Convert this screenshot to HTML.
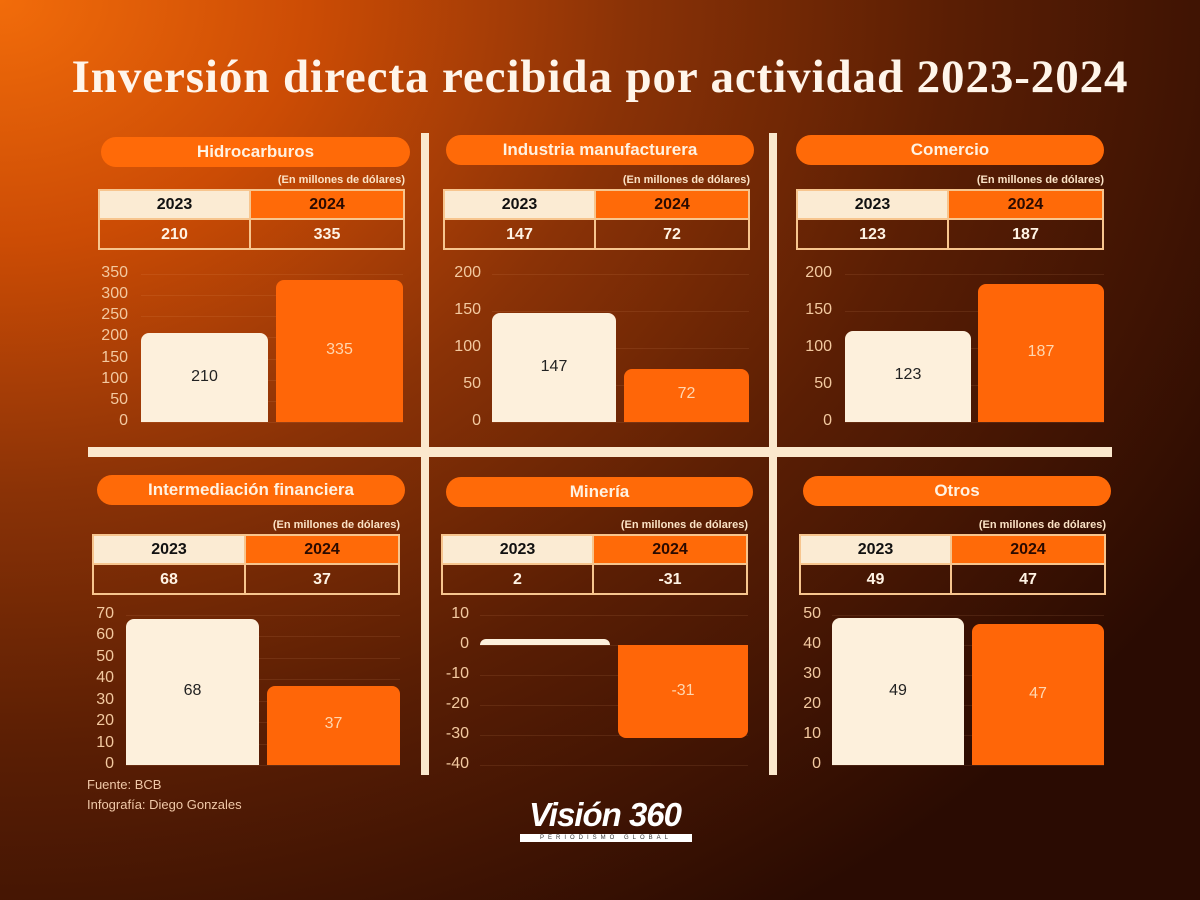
<!DOCTYPE html>
<html><head><meta charset="utf-8"><style>
*{margin:0;padding:0;box-sizing:border-box}
body{width:1200px;height:900px;overflow:hidden;position:relative;font-family:"Liberation Sans",sans-serif;
background:radial-gradient(ellipse 1400px 1100px at 0px 0px,#f26c0a 0%,#cc4c05 22%,#8a3206 45%,#5a1e04 68%,#2a0b02 100%);}
.a{position:absolute}
.title{left:0;width:1200px;top:50px;text-align:center;font-family:"Liberation Serif",serif;font-weight:bold;font-size:47px;color:#fff5ea;letter-spacing:0.9px;white-space:nowrap}
.pill{background:#ff6a08;border-radius:15px;color:#fff2e2;font-weight:bold;font-size:17px;text-align:center}
.sub{font-size:11px;font-weight:bold;color:#fbe3c6;text-align:right}
.cell{border:2px solid #f7c58e;text-align:center;font-weight:bold;font-size:16px}
.div{background:#fbe8cd}
.tick{font-size:16px;color:#f3c9a0;text-align:right;width:34px}
.grid{height:1px;background:rgba(255,190,140,0.1)}
</style></head><body>
<div class="a title">Inversión directa recibida por actividad 2023-2024</div>
<div class="a div" style="left:421px;top:133px;width:8px;height:322px"></div>
<div class="a div" style="left:769px;top:133px;width:8px;height:322px"></div>
<div class="a div" style="left:88px;top:447px;width:1024px;height:10px"></div>
<div class="a div" style="left:421px;top:457px;width:8px;height:318px"></div>
<div class="a div" style="left:769px;top:457px;width:8px;height:318px"></div>
<div class="a" style="left:87px;top:777px;font-size:13px;color:#f0c8a8">Fuente: BCB</div>
<div class="a" style="left:87px;top:797px;font-size:13px;color:#f0c8a8">Infografía: Diego Gonzales</div>
<div class="a" style="left:515px;top:796px;width:180px;text-align:center;font-weight:bold;font-style:italic;font-size:33px;color:#fff;letter-spacing:-1px">Visión 360</div>
<div class="a" style="left:520px;top:834px;width:172px;height:8px;background:#fff;font-size:6px;line-height:8px;color:#333;text-align:center;letter-spacing:4px">PERIODISMO GLOBAL</div>
<div id="c"></div>
<script>
const P=[
{n:"Hidrocarburos",pl:101,pt:137,pw:309,tl:98,tt:189,tw:307,sp:251,v:[210,335],ay:[274,422],max:350,min:0,step:50,b:[[141,268],[276,403]],al:94},
{n:"Industria manufacturera",pl:446,pt:135,pw:308,tl:443,tt:189,tw:307,sp:596,v:[147,72],ay:[274,422],max:200,min:0,step:50,b:[[492,616],[624,749]],al:447},
{n:"Comercio",pl:796,pt:135,pw:308,tl:796,tt:189,tw:308,sp:949,v:[123,187],ay:[274,422],max:200,min:0,step:50,b:[[845,971],[978,1104]],al:798},
{n:"Intermediación financiera",pl:97,pt:475,pw:308,tl:92,tt:534,tw:308,sp:246,v:[68,37],ay:[615,765],max:70,min:0,step:10,b:[[126,259],[267,400]],al:80},
{n:"Minería",pl:446,pt:477,pw:307,tl:441,tt:534,tw:307,sp:594,v:[2,-31],ay:[615,765],max:10,min:-40,step:10,b:[[480,610],[618,748]],al:435},
{n:"Otros",pl:803,pt:476,pw:308,tl:799,tt:534,tw:307,sp:952,v:[49,47],ay:[615,765],max:50,min:0,step:10,b:[[832,964],[972,1104]],al:787}];
let h="";
for(const p of P){
h+=`<div class="a pill" style="left:${p.pl}px;top:${p.pt}px;width:${p.pw}px;height:30px;line-height:30px">${p.n}</div>`;
h+=`<div class="a sub" style="left:${p.tl}px;top:${p.tt-15}px;width:${p.tw}px">(En millones de dólares)</div>`;
const w1=p.sp-p.tl,w2=p.tl+p.tw-p.sp;
h+=`<div class="a cell" style="left:${p.tl}px;top:${p.tt}px;width:${w1}px;height:31px;line-height:28px;background:#fbebd3;color:#111">2023</div>`;
h+=`<div class="a cell" style="left:${p.sp-2}px;top:${p.tt}px;width:${w2+2}px;height:31px;line-height:28px;background:#ff6a08;color:#2a0a00">2024</div>`;
h+=`<div class="a cell" style="left:${p.tl}px;top:${p.tt+29}px;width:${w1}px;height:32px;line-height:30px;color:#fff3e4">${p.v[0]}</div>`;
h+=`<div class="a cell" style="left:${p.sp-2}px;top:${p.tt+29}px;width:${w2+2}px;height:32px;line-height:30px;color:#fff3e4">${p.v[1]}</div>`;
const Y=v=>p.ay[0]+(p.max-v)/(p.max-p.min)*(p.ay[1]-p.ay[0]);
for(let t=p.max;t>=p.min;t-=p.step){const y=Y(t);
h+=`<div class="a tick" style="left:${p.al}px;top:${y-10}px">${t}</div>`;
h+=`<div class="a grid" style="left:${p.b[0][0]}px;top:${y}px;width:${p.b[1][1]-p.b[0][0]}px"></div>`;}
const z=Y(0);
p.v.forEach((v,i)=>{const [x1,x2]=p.b[i];const top=Math.min(Y(v),z),bot=Math.max(Y(v),z);
const neg=v<0;const col=i?"#ff6608":"#fdf0dc",tc=i?"#ffd7b0":"#222";
const r=neg?"0 0 8px 8px":"8px 8px 0 0";
h+=`<div class="a" style="left:${x1}px;top:${top}px;width:${x2-x1}px;height:${bot-top}px;background:${col};border-radius:${r}"></div>`;
if(Math.abs(v)>5)h+=`<div class="a" style="left:${x1}px;top:${(top+bot)/2-10}px;width:${x2-x1}px;text-align:center;font-size:16px;color:${tc}">${v}</div>`;});
}
document.getElementById("c").innerHTML=h;
</script>
</body></html>
